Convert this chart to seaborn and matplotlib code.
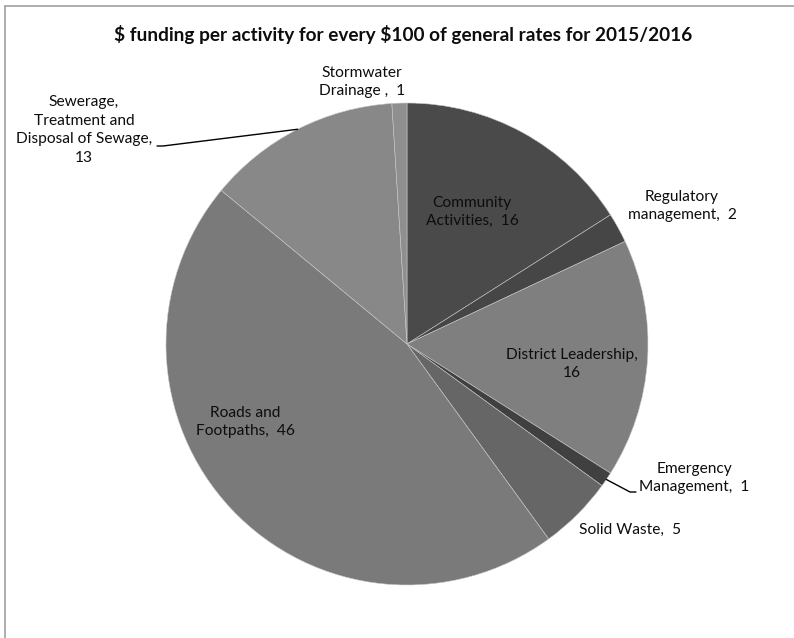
import numpy as np
import matplotlib
matplotlib.use("Agg")
import matplotlib.pyplot as plt
import seaborn as sns

# ---- data ----
categories = ["Community Activities", "Regulatory management", "District Leadership",
              "Emergency Management", "Solid Waste", "Roads and Footpaths",
              "Sewerage, Treatment and Disposal of Sewage", "Stormwater Drainage "]
values = [16, 2, 16, 1, 5, 46, 13, 1]
label_texts = ["Community\nActivities,  16", "Regulatory\nmanagement,  2",
               "District Leadership,\n16", "Emergency\nManagement,  1",
               "Solid Waste,  5", "Roads and\nFootpaths,  46",
               "Sewerage,\nTreatment and\nDisposal of Sewage,\n13",
               "Stormwater\nDrainage ,  1"]
title = "$ funding per activity for every $100 of general rates for 2015/2016"

# ---- style ----
colors = ["#4a4a4a", "#464646", "#7f7f7f", "#404040", "#666666", "#7a7a7a", "#888888", "#8f8f8f"]
sns.set_theme(style="white")
plt.rcParams['font.family'] = ['Lato', 'DejaVu Sans']
plt.rcParams['text.parse_math'] = False

W, H, DPI = 794, 638, 100
cx, cy, R = 407, 344, 241  # pie centre & radius in pixels

fig = plt.figure(figsize=(W / DPI, H / DPI), dpi=DPI)
ax = fig.add_axes([0, 0, 1, 1])

wedges, _ = ax.pie(values, colors=colors, startangle=90, counterclock=False,
                   wedgeprops=dict(edgecolor="#c8c8c8", linewidth=0.4))
ax.set_xlim(-cx / R, (W - cx) / R)
ax.set_ylim(-(H - cy) / R, cy / R)
ax.set_aspect("equal")
ax.axis("off")

def px(x, y):
    return (x - cx) / R, (cy - y) / R

# label positions (pixels, centre of text block)
label_pos = [(472, 212), (682, 206), (572, 364), (694, 478),
             (630, 530), (245, 422), (84, 130), (362, 82)]
for txt, (lx, ly) in zip(label_texts, label_pos):
    x, y = px(lx, ly)
    ax.text(x, y, txt, ha="center", va="center", fontsize=11.2,
            color="#0d0d0d", linespacing=1.4)

# leader lines from wedge mid-angle on edge
def edge_point(i):
    w = wedges[i]
    mid = np.deg2rad((w.theta1 + w.theta2) / 2)
    return np.cos(mid), np.sin(mid)

# Sewerage (index 6)
ex, ey = edge_point(6)
p1 = px(163, 146); p2 = px(157, 146)
ax.plot([ex, p1[0], p2[0]], [ey, p1[1], p2[1]], color="black", lw=1.0)
# Emergency (index 3)
ex, ey = edge_point(3)
p1 = px(630, 492); p2 = px(636, 492)
ax.plot([ex, p1[0], p2[0]], [ey, p1[1], p2[1]], color="black", lw=1.0)

fig.text(403 / W, 1 - 35 / H, title, ha="center", va="center",
         fontsize=13.7, fontweight="bold", color="#0d0d0d")

# chart border (top and left visible)
fig.add_artist(plt.Line2D([4.5 / W, 1], [1 - 5.5 / H, 1 - 5.5 / H],
                          transform=fig.transFigure, color="#a0a0a0", lw=1.2))
fig.add_artist(plt.Line2D([4.5 / W, 4.5 / W], [0, 1 - 5.5 / H],
                          transform=fig.transFigure, color="#a0a0a0", lw=1.2))

fig.savefig("out.png", dpi=DPI, facecolor="white")
